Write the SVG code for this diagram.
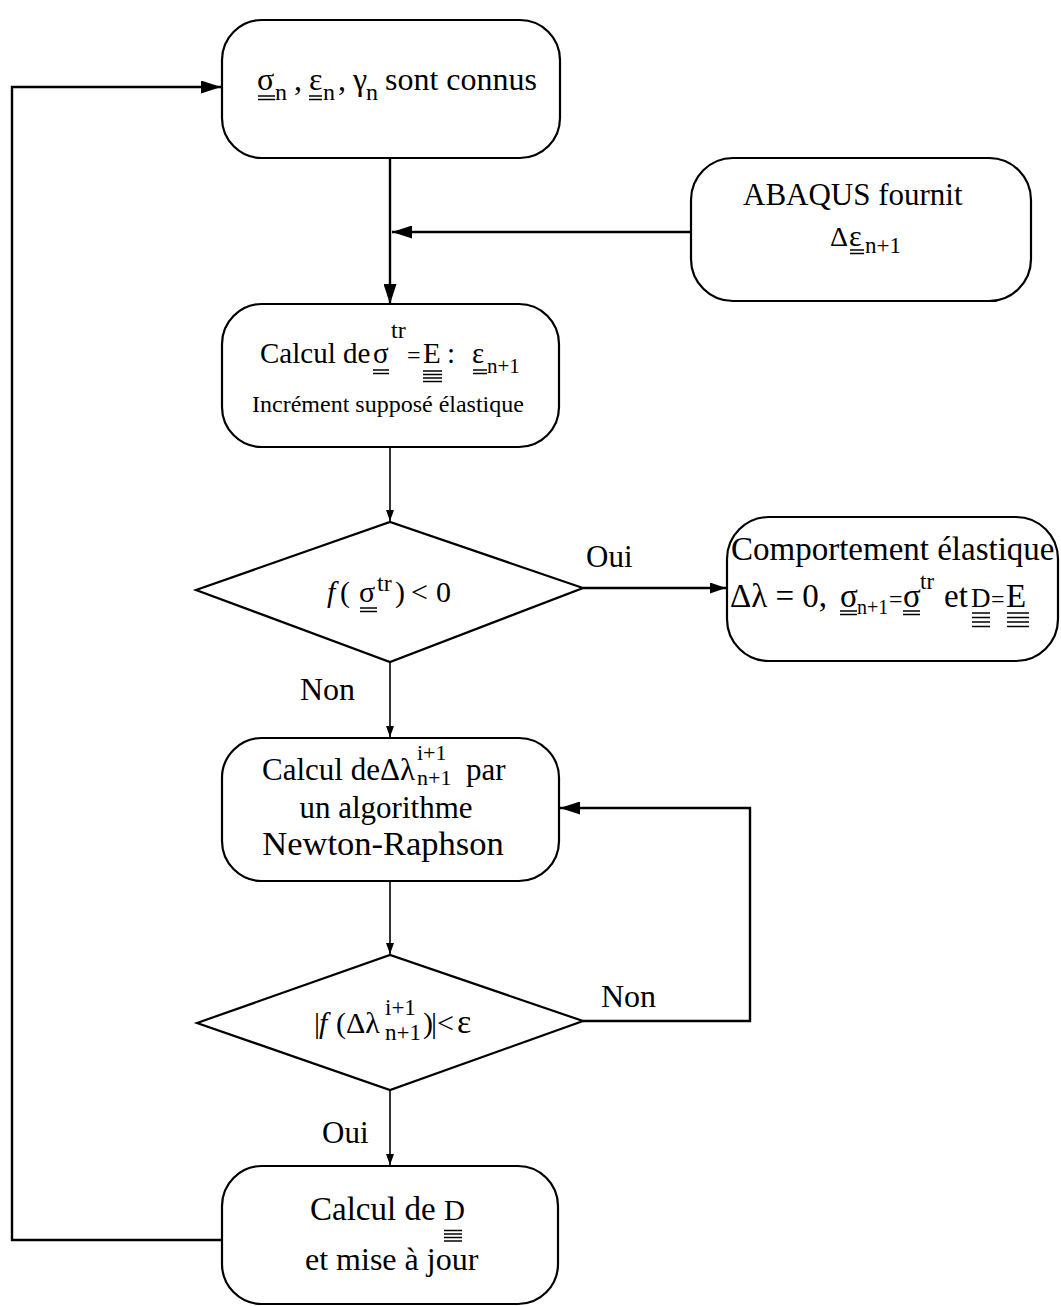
<svg xmlns="http://www.w3.org/2000/svg" width="1061" height="1306" viewBox="0 0 1061 1306">
<style>
.box{fill:#fff;stroke:#000;stroke-width:2.2}
.c{fill:none;stroke:#000;stroke-width:2.4}
.cs{fill:none;stroke:#000;stroke-width:1.6}
.ul{stroke:#000;stroke-width:1.5}
text{font-family:"Liberation Serif","Times New Roman",serif;fill:#000}
</style>
<defs>
<marker id="big" markerUnits="userSpaceOnUse" markerWidth="20" markerHeight="13" refX="20" refY="6.5" orient="auto"><path d="M0,0 L20,6.5 L0,13 z" fill="#000"/></marker>
<marker id="med" markerUnits="userSpaceOnUse" markerWidth="16" markerHeight="11" refX="16" refY="5.5" orient="auto"><path d="M0,0 L16,5.5 L0,11 z" fill="#000"/></marker>
<marker id="small" markerUnits="userSpaceOnUse" markerWidth="11" markerHeight="8" refX="11" refY="4" orient="auto"><path d="M0,0 L11,4 L0,8 z" fill="#000"/></marker>
</defs>
<rect width="1061" height="1306" fill="#fff"/>
<g id="connectors">
<path class="c" d="M390,158 L390,304" marker-end="url(#big)"/>
<path class="c" d="M690,232 L392,232" marker-end="url(#big)"/>
<path class="cs" d="M390,447 L390,521" marker-end="url(#small)"/>
<path class="c" d="M583,588 L726,588" marker-end="url(#med)"/>
<path class="cs" d="M390,662 L390,737" marker-end="url(#small)"/>
<path class="cs" d="M390,881 L390,954" marker-end="url(#small)"/>
<path class="c" d="M583,1021 L750,1021 L750,808 L560,808" marker-end="url(#big)"/>
<path class="cs" d="M390,1090 L390,1165" marker-end="url(#small)"/>
<path class="c" d="M222,1240 L12,1240 L12,87 L221,87" marker-end="url(#big)"/>
</g>
<g id="labels">
<text x="586" y="567" font-size="31">Oui</text>
<text x="300" y="700" font-size="32">Non</text>
<text x="601" y="1007" font-size="32">Non</text>
<text x="322" y="1143" font-size="31">Oui</text>
</g>
<g id="n1">
<rect class="box" x="222" y="20" width="338" height="138" rx="40"/>
<text font-size="32"><tspan x="257" y="90">σ</tspan><tspan x="275" y="100" font-size="24">n</tspan><tspan x="294" y="90">,</tspan><tspan x="309" y="90">ε</tspan><tspan x="323" y="100" font-size="24">n</tspan><tspan x="338" y="90">,</tspan><tspan x="353" y="90">γ</tspan><tspan x="366" y="100" font-size="24">n</tspan><tspan x="385" y="90">sont connus</tspan></text>
<line class="ul" x1="258" y1="96" x2="275" y2="96"/><line class="ul" x1="258" y1="99.5" x2="275" y2="99.5"/>
<line class="ul" x1="309" y1="96" x2="322" y2="96"/><line class="ul" x1="309" y1="99.5" x2="322" y2="99.5"/>
</g>
<g id="n2">
<rect class="box" x="691" y="158" width="340" height="143" rx="42"/>
<text x="743" y="205" font-size="31">ABAQUS fournit</text>
<text><tspan x="830" y="246" font-size="28">Δ</tspan><tspan x="849" y="246" font-size="30">ε</tspan><tspan x="865" y="253" font-size="23">n+1</tspan></text>
<line class="ul" x1="850" y1="250" x2="864" y2="250"/><line class="ul" x1="850" y1="253.5" x2="864" y2="253.5"/>
</g>
<g id="n3">
<rect class="box" x="222" y="304" width="337" height="143" rx="40"/>
<text font-size="29"><tspan x="260" y="363">Calcul de</tspan><tspan x="373" y="363">σ</tspan><tspan x="391" y="338" font-size="24">tr</tspan><tspan x="407" y="363" font-size="24">=</tspan><tspan x="423" y="363">E</tspan><tspan x="447" y="363">:</tspan><tspan x="472" y="363">ε</tspan><tspan x="487" y="373" font-size="21">n+1</tspan></text>
<line class="ul" x1="373" y1="370" x2="389" y2="370"/><line class="ul" x1="373" y1="373.5" x2="389" y2="373.5"/>
<line class="ul" x1="423" y1="371" x2="442" y2="371"/><line class="ul" x1="423" y1="374.5" x2="442" y2="374.5"/><line class="ul" x1="423" y1="378" x2="442" y2="378"/><line class="ul" x1="423" y1="381.5" x2="442" y2="381.5"/>
<line class="ul" x1="473" y1="370" x2="487" y2="370"/><line class="ul" x1="473" y1="373.5" x2="487" y2="373.5"/>
<text x="388" y="412" font-size="24" text-anchor="middle">Incrément supposé élastique</text>
</g>
<g id="n4">
<polygon class="box" points="196,590 390,522 583,588 390,662"/>
<text font-size="30"><tspan x="327" y="602" font-style="italic">f</tspan><tspan x="340" y="602">(</tspan><tspan x="359" y="602">σ</tspan><tspan x="377" y="591" font-size="24">tr</tspan><tspan x="395" y="602">)</tspan><tspan x="411" y="602">&lt;</tspan><tspan x="436" y="602">0</tspan></text>
<line class="ul" x1="360" y1="608" x2="377" y2="608"/><line class="ul" x1="360" y1="611.5" x2="377" y2="611.5"/>
</g>
<g id="n5">
<rect class="box" x="727" y="517" width="331" height="144" rx="42"/>
<text x="731" y="560" font-size="33">Comportement élastique</text>
<text font-size="33"><tspan x="730" y="607">Δλ = 0,</tspan><tspan x="840" y="607">σ</tspan><tspan x="857" y="614" font-size="20">n+1</tspan><tspan x="889" y="607" font-size="24">=</tspan><tspan x="903" y="607">σ</tspan><tspan x="920" y="589" font-size="23">tr</tspan><tspan x="944" y="607">et</tspan><tspan x="971" y="607" font-size="27">D</tspan><tspan x="991" y="607" font-size="24">=</tspan><tspan x="1006" y="607">E</tspan></text>
<line class="ul" x1="840" y1="611" x2="857" y2="611"/><line class="ul" x1="840" y1="614.5" x2="857" y2="614.5"/>
<line class="ul" x1="903" y1="611" x2="920" y2="611"/><line class="ul" x1="903" y1="614.5" x2="920" y2="614.5"/>
<line class="ul" x1="972" y1="613" x2="990" y2="613"/><line class="ul" x1="972" y1="617.5" x2="990" y2="617.5"/><line class="ul" x1="972" y1="622" x2="990" y2="622"/><line class="ul" x1="972" y1="626.5" x2="990" y2="626.5"/>
<line class="ul" x1="1007" y1="613" x2="1029" y2="613"/><line class="ul" x1="1007" y1="617.5" x2="1029" y2="617.5"/><line class="ul" x1="1007" y1="622" x2="1029" y2="622"/><line class="ul" x1="1007" y1="626.5" x2="1029" y2="626.5"/>
</g>
<g id="n6">
<rect class="box" x="222" y="738" width="337" height="143" rx="40"/>
<text font-size="31"><tspan x="262" y="780">Calcul de</tspan><tspan x="380" y="780">Δλ</tspan><tspan x="417" y="760" font-size="22">i+1</tspan><tspan x="417" y="785" font-size="22">n+1</tspan><tspan x="466" y="780">par</tspan></text>
<text x="386" y="818" font-size="31" text-anchor="middle">un algorithme</text>
<text x="383" y="855" font-size="34.5" text-anchor="middle">Newton-Raphson</text>
</g>
<g id="n7">
<polygon class="box" points="197,1023 390,955 583,1021 390,1090"/>
<text font-size="30"><tspan x="314" y="1033">|</tspan><tspan x="319" y="1033" font-style="italic">f</tspan><tspan x="336" y="1033">(</tspan><tspan x="346" y="1033">Δλ</tspan><tspan x="385" y="1015" font-size="23">i+1</tspan><tspan x="385" y="1040" font-size="23">n+1</tspan><tspan x="423" y="1033">)</tspan><tspan x="431" y="1033">|</tspan><tspan x="437" y="1033">&lt;</tspan><tspan x="457" y="1033" font-size="34">ε</tspan></text>
</g>
<g id="n8">
<rect class="box" x="222" y="1166" width="336" height="138" rx="40"/>
<text font-size="33"><tspan x="310" y="1220">Calcul de</tspan><tspan x="444" y="1220" font-size="29">D</tspan></text>
<line class="ul" x1="444" y1="1230.5" x2="462" y2="1230.5"/><line class="ul" x1="444" y1="1234" x2="462" y2="1234"/><line class="ul" x1="444" y1="1237.5" x2="462" y2="1237.5"/><line class="ul" x1="444" y1="1241" x2="462" y2="1241"/>
<text x="305" y="1270" font-size="32">et mise à jour</text>
</g>
</svg>
